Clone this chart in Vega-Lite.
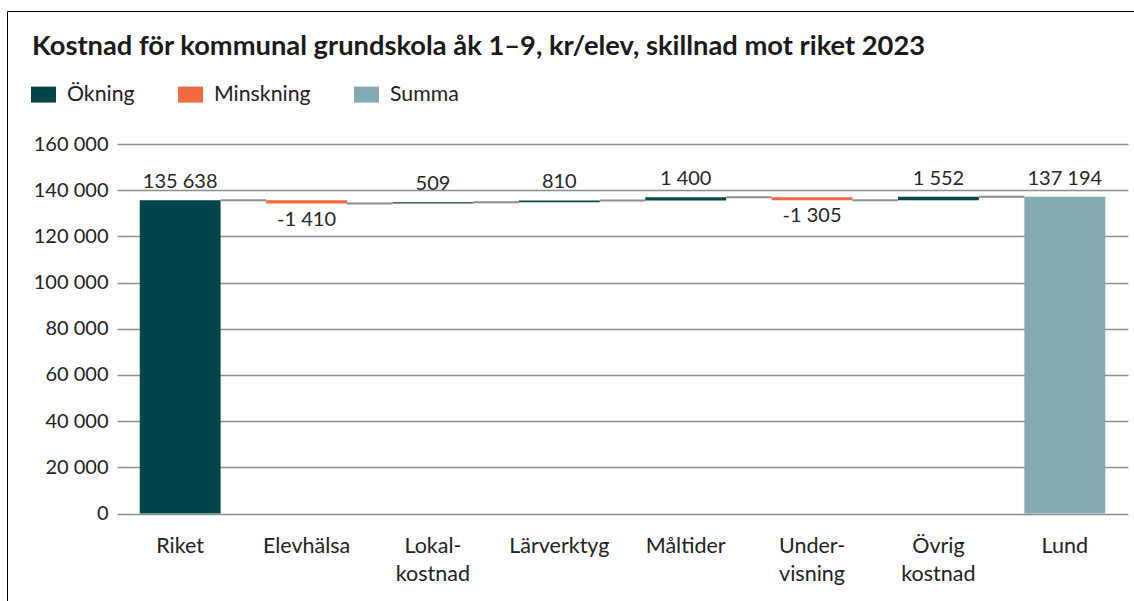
{
  "$schema": "https://vega.github.io/schema/vega-lite/v6.json",
  "width": 1011,
  "height": 369.5,
  "autosize": {"type": "none"},
  "padding": {"left": 117, "top": 144, "right": 6, "bottom": 88},
  "title": {
    "text": "Kostnad för kommunal grundskola åk 1–9, kr/elev, skillnad mot riket 2023",
    "anchor": "start",
    "frame": "group",
    "dx": -85,
    "offset": -50,
    "fontSize": 27.3,
    "fontWeight": "bold",
    "color": "#1a1a1a"
  },
  "data": {
    "values": [
      {"cat": "Riket", "next": "Elevhälsa", "value": 135638, "start": 0, "end": 135638, "type": "Ökning", "pos": "up"},
      {"cat": "Elevhälsa", "next": "Lokal-|kostnad", "value": -1410, "start": 135638, "end": 134228, "type": "Minskning", "pos": "down"},
      {"cat": "Lokal-|kostnad", "next": "Lärverktyg", "value": 509, "start": 134228, "end": 134737, "type": "Ökning", "pos": "up"},
      {"cat": "Lärverktyg", "next": "Måltider", "value": 810, "start": 134737, "end": 135547, "type": "Ökning", "pos": "up"},
      {"cat": "Måltider", "next": "Under-|visning", "value": 1400, "start": 135547, "end": 136947, "type": "Ökning", "pos": "up"},
      {"cat": "Under-|visning", "next": "Övrig|kostnad", "value": -1305, "start": 136947, "end": 135642, "type": "Minskning", "pos": "down"},
      {"cat": "Övrig|kostnad", "next": "Lund", "value": 1552, "start": 135642, "end": 137194, "type": "Ökning", "pos": "up"},
      {"cat": "Lund", "next": null, "value": 137194, "start": 0, "end": 137194, "type": "Summa", "pos": "up"}
    ]
  },
  "encoding": {
    "x": {
      "field": "cat",
      "type": "nominal",
      "sort": null,
      "scale": {
        "domain": ["Riket", "Elevhälsa", "Lokal-|kostnad", "Lärverktyg", "Måltider", "Under-|visning", "Övrig|kostnad", "Lund"],
        "paddingInner": 0.36,
        "paddingOuter": 0.18
      },
      "axis": {
        "title": null,
        "domain": false,
        "ticks": false,
        "labelAngle": 0,
        "labelPadding": 22,
        "labelFontSize": 21.5,
        "labelColor": "#222222",
        "labelLineHeight": 28,
        "labelExpr": "split(datum.label, '|')"
      }
    }
  },
  "layer": [
    {
      "mark": {"type": "bar"},
      "encoding": {
        "y": {
          "field": "end",
          "type": "quantitative",
          "scale": {"domain": [0, 160000], "nice": false},
          "axis": {
            "title": null,
            "values": [0, 20000, 40000, 60000, 80000, 100000, 120000, 140000, 160000],
            "labelExpr": "format(datum.value, ',.0f')",
            "domain": false,
            "ticks": false,
            "grid": true,
            "gridColor": "#8c8c8c",
            "gridWidth": 1.5,
            "labelPadding": 9,
            "labelFontSize": 20,
            "labelColor": "#222222"
          }
        },
        "y2": {"field": "start"},
        "color": {
          "field": "type",
          "type": "nominal",
          "scale": {
            "domain": ["Ökning", "Minskning", "Summa"],
            "range": ["#02464a", "#ef6a40", "#83aab1"]
          },
          "legend": {
            "title": null,
            "orient": "none",
            "direction": "horizontal",
            "legendX": -86,
            "legendY": -62,
            "symbolType": "M-1,-0.64H1V0.64H-1Z",
            "symbolSize": 625,
            "symbolStrokeWidth": 0,
            "symbolOpacity": 1,
            "labelFontSize": 21.3,
            "labelColor": "#222222",
            "labelOffset": 11,
            "columnPadding": 43
          }
        }
      }
    },
    {
      "transform": [{"filter": "datum.next != null"}],
      "mark": {"type": "rule", "color": "#8c8c8c", "strokeWidth": 2},
      "encoding": {
        "x": {"field": "cat", "type": "nominal", "bandPosition": 1},
        "x2": {"field": "next", "bandPosition": 0},
        "y": {"field": "end", "type": "quantitative"}
      }
    },
    {
      "transform": [{"filter": "datum.pos == 'up'"}],
      "mark": {"type": "text", "baseline": "alphabetic", "dy": -12, "fontSize": 20, "color": "#262626"},
      "encoding": {
        "y": {"field": "end", "type": "quantitative"},
        "text": {"field": "value", "type": "quantitative", "format": ","},
        "opacity": {
          "datum": "ram",
          "type": "ordinal",
          "scale": {"range": [1]},
          "legend": {
            "title": null,
            "orient": "none",
            "legendX": -110,
            "legendY": -133,
            "padding": 900,
            "strokeColor": "#000000",
            "labelExpr": "''",
            "labelFontSize": 1,
            "symbolSize": 1,
            "symbolOpacity": 0
          }
        }
      }
    },
    {
      "transform": [{"filter": "datum.pos == 'down'"}],
      "mark": {"type": "text", "baseline": "top", "dy": 6, "fontSize": 20, "color": "#262626"},
      "encoding": {
        "y": {"field": "end", "type": "quantitative"},
        "text": {"field": "value", "type": "quantitative", "format": ","}
      }
    }
  ],
  "config": {
    "font": "Lato",
    "view": {"stroke": null},
    "locale": {
      "number": {"decimal": ",", "thousands": " ", "grouping": [3], "currency": ["", ""], "minus": "-"}
    }
  }
}
